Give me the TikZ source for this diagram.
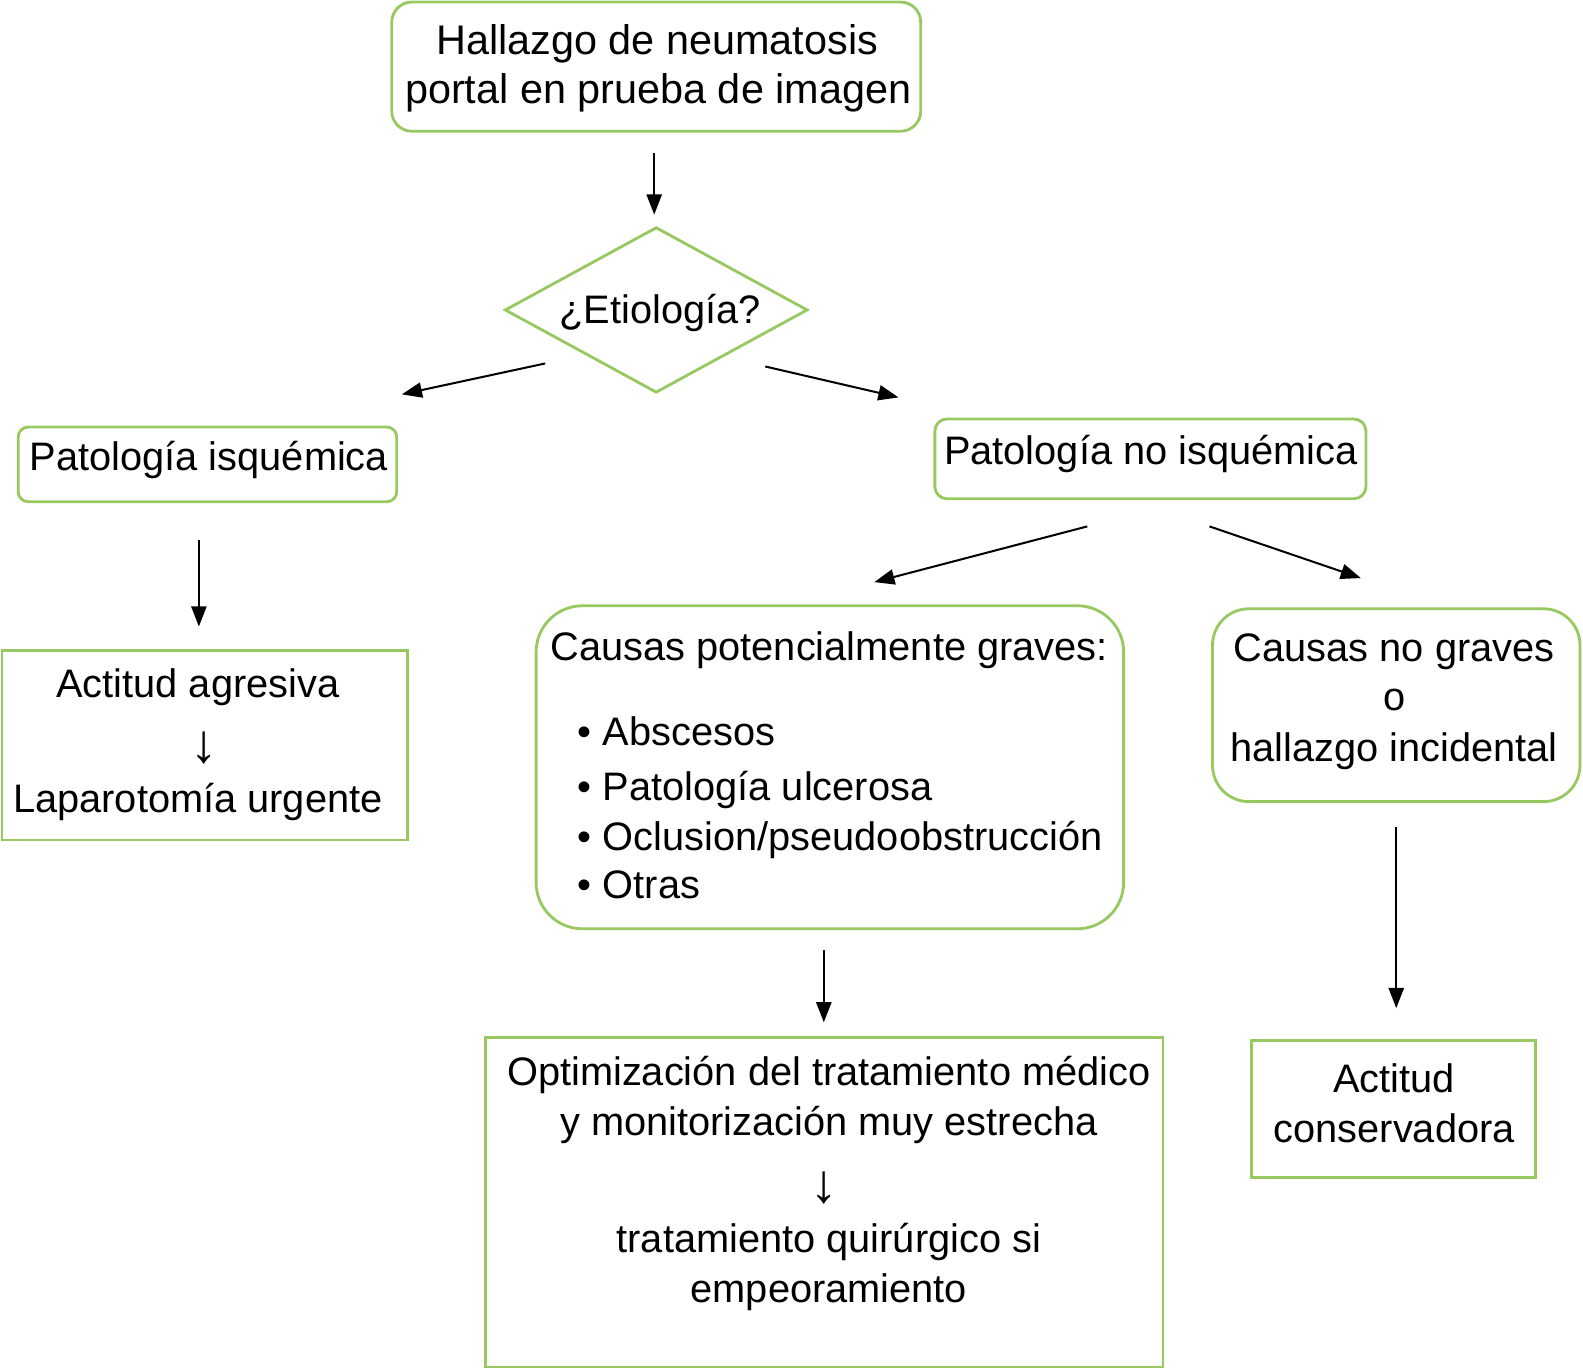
\documentclass[tikz,border=0pt]{standalone}
\usepackage{fontspec}
\setmainfont{Liberation Sans}
\usetikzlibrary{shapes.geometric,arrows.meta,calc}
\definecolor{boxgreen}{RGB}{152,201,96}
\begin{document}
\begin{tikzpicture}[x=0.5pt,y=-0.5pt,
  box/.style={draw=boxgreen,line width=1.4pt,inner sep=0pt},
  rbox/.style={box,rounded corners=#1},
  txt/.style={inner sep=0pt,anchor=base,font=\fontsize{19.7}{25}\selectfont},
  ltxt/.style={txt,anchor=base west},
  dtxt/.style={inner sep=0pt,anchor=base,font=\fontsize{27}{30}\selectfont},
  arr/.style={line width=1pt,-{Triangle[length=10pt,width=7.5pt]}}]
\useasboundingbox (0,0) rectangle (1568,1356);

% boxes
\node[rbox=10pt,minimum width=262pt,minimum height=64pt] (top) at (650,66) {};
\node[box,diamond,minimum width=150pt,minimum height=82pt] (diam) at (650,307) {};
\node[rbox=5pt,minimum width=187.5pt,minimum height=37pt] (isq) at (205.5,460) {};
\node[rbox=6pt,minimum width=213.5pt,minimum height=39.5pt] (noisq) at (1139.5,454.5) {};
\node[box,minimum width=201pt,minimum height=94pt] (agr) at (203,738) {};
\node[rbox=23pt,minimum width=291pt,minimum height=160pt] (grav) at (822,760) {};
\node[rbox=18pt,minimum width=182pt,minimum height=95.5pt] (nograv) at (1383,698.5) {};
\node[box,minimum width=335.5pt,minimum height=163pt] (opt) at (816.5,1191) {};
\node[box,minimum width=140.5pt,minimum height=67.5pt] (cons) at (1380.5,1098.5) {};

% texts
\node[txt,font=\fontsize{20.5}{25}\selectfont] (t1) at (651,54) {Hallazgo de neumatosis};
\node[txt,font=\fontsize{20.5}{25}\selectfont] (t2) at (652,103) {portal en prueba de imagen};
\node[txt] (t3) at (654,320) {¿Etiología?};
\node[txt] (t4) at (207,466) {Patología isquémica};
\node[txt] (t5) at (1140,460) {Patología no isquémica};
\node[txt] (t6) at (196,691) {Actitud agresiva};
\node[dtxt] (t7) at (202,755) {↓};
\node[txt] (t8) at (196,805) {Laparotomía urgente};
\node[ltxt] (t9) at (545,654) {Causas potencialmente graves:};
\node[ltxt] (t10) at (572,738) {• Abscesos};
\node[ltxt] (t11) at (572,793) {• Patología ulcerosa};
\node[ltxt] (t12) at (572,842) {• Oclusion/pseudoobstrucción};
\node[ltxt] (t13) at (572,890) {• Otras};
\node[txt] (t14) at (1381,655) {Causas no graves};
\node[txt] (t15) at (1381,704) {o};
\node[txt] (t16) at (1381,754) {hallazgo incidental};
\node[txt] (t17) at (821,1075) {Optimización del tratamiento médico};
\node[txt] (t18) at (821,1125) {y monitorización muy estrecha};
\node[dtxt] (t19) at (816,1191) {↓};
\node[txt] (t20) at (821,1241) {tratamiento quirúrgico si};
\node[txt] (t21) at (821,1290) {empeoramiento};
\node[txt] (t22) at (1381,1082) {Actitud};
\node[txt] (t23) at (1381,1132) {conservadora};

% connectors
\draw[arr] ($(top.south)+(-2,20)$) -- ($(diam.north)+(-2,-11)$);
\draw[arr] ($(diam.center)+(-110,53)$) -- ($(isq.north)+(192.5,-31)$);
\draw[arr] ($(diam.center)+(108,56)$) -- ($(noisq.north)+(-249.5,-20)$);
\draw[arr] ($(isq.south)+(-8.5,36)$) -- ($(agr.north)+(-6,-22)$);
\draw[arr] ($(noisq.south)+(-62.5,26)$) -- ($(grav.north)+(44,-22)$);
\draw[arr] ($(noisq.south)+(58.5,26)$) -- ($(nograv.north)+(-35,-29)$);
\draw[arr] ($(grav.south)+(-6,20)$) -- ($(opt.north)+(-0.5,-14)$);
\draw[arr] ($(nograv.south)+(0,24)$) -- ($(cons.north)+(2.5,-31)$);
\end{tikzpicture}
\end{document}
